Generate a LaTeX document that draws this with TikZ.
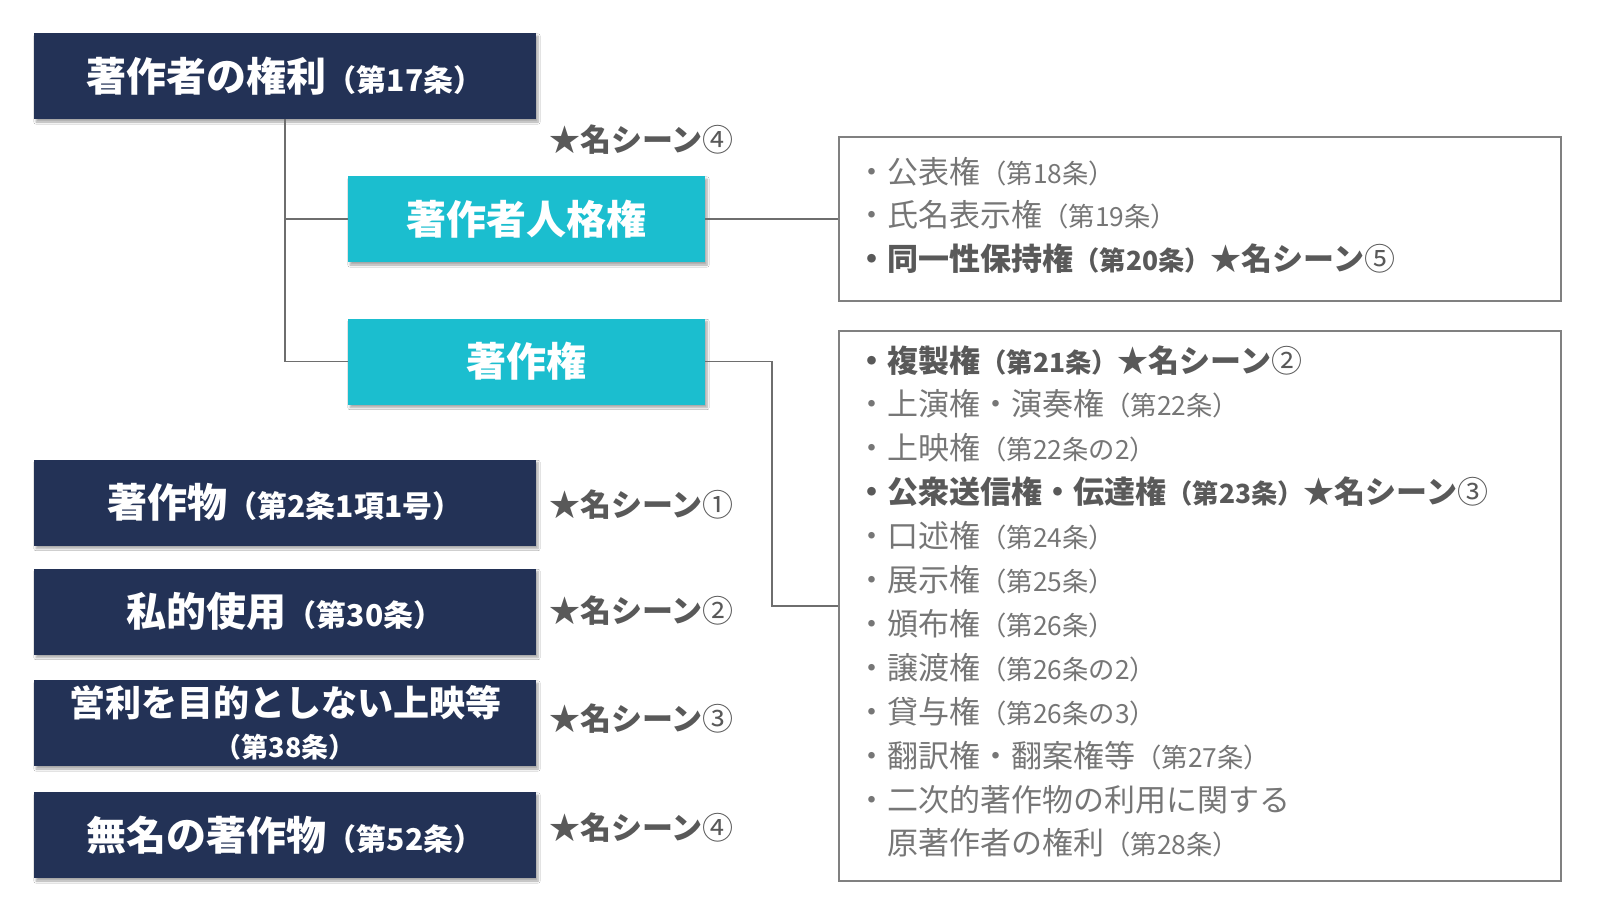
\documentclass[tikz,border=0pt]{standalone}
\usepackage{fontspec}
\setmainfont{Noto Sans CJK JP}
\usepackage{graphicx}
\usetikzlibrary{positioning,calc,shadows.blur}

\definecolor{navyfill}{RGB}{35,50,86}
\definecolor{cyanfill}{RGB}{27,190,207}
\definecolor{scenegray}{RGB}{89,89,89}
\definecolor{itemgray}{RGB}{118,118,118}
\definecolor{linegray}{RGB}{110,110,110}
\definecolor{framegray}{RGB}{128,128,128}

% article numbers are set smaller than the running text
\newcommand\artno[1]{\scalebox{0.75}{#1}}
\newcommand\artsm[1]{\scalebox{0.85}{#1}}
% circled scene numbers stay light
\newcommand\scn[1]{{\mdseries #1}}

\begin{document}
\begin{tikzpicture}[
  x=1pt,y=-1pt,
  navybox/.style={rectangle,fill=navyfill,text=white,inner sep=0pt,align=center,
                  minimum width=502pt,minimum height=86pt,
                  font=\bfseries\fontsize{40}{46}\selectfont,
                  blur shadow={shadow xshift=2pt,shadow yshift=-3pt,shadow blur steps=6,shadow opacity=35}},
  cyanbox/.style={navybox,fill=cyanfill,minimum width=357pt},
  scene/.style={anchor=west,inner sep=0pt,text=scenegray,font=\bfseries\fontsize{31}{36}\selectfont},
  listbox/.style={rectangle,draw=framegray,line width=1.5pt,minimum width=722pt,inner sep=0pt},
  itm/.style={anchor=west,inner sep=0pt,text=itemgray,font=\fontsize{31}{36}\selectfont},
  itmb/.style={itm,text=scenegray,font=\bfseries\fontsize{31}{36}\selectfont},
  conn/.style={draw=linegray,line width=1.6pt},
]
\fill[white] (0,0) rectangle (1600,907);
\useasboundingbox (0,0) rectangle (1600,907);

% ---------- rights tree ----------
\node[navybox] (right17) at (285,76) {著作者の権利\artno{（第17条）}};
\node[cyanbox] (moral) at (526.5,219) {著作者人格権};
\node[cyanbox] (copyr) at (526.5,361.5) {著作権};

\node[listbox,minimum height=164pt] (listA) at (1200,219) {};
\node[listbox,minimum height=550pt] (listB) at (1200,606) {};

\draw[conn] (right17.south) |- (moral.west);
\draw[conn] (right17.south) |- (copyr.west);
\draw[conn] (moral.east) -- (listA.west);
\draw[conn] (copyr.east) -- ++(67,0) |- (listB.west);

% ---------- list of moral rights ----------
\foreach \k/\st/\txt in {
  0/itm/{・公表権\artsm{（第18条）}},
  1/itm/{・氏名表示権\artsm{（第19条）}},
  2/itmb/{・同一性保持権\artsm{（第20条）}★名シーン\scn{⑤}}} {
  \node[\st] (itemA\k) at ($(listA.north west)+(18,35+43.9*\k)$) {\txt};
}

% ---------- list of economic rights ----------
\foreach \k/\st/\txt in {
  0/itmb/{・複製権\artsm{（第21条）}★名シーン\scn{②}},
  1/itm/{・上演権・演奏権\artsm{（第22条）}},
  2/itm/{・上映権\artsm{（第22条の2）}},
  3/itmb/{・公衆送信権・伝達権\artsm{（第23条）}★名シーン\scn{③}},
  4/itm/{・口述権\artsm{（第24条）}},
  5/itm/{・展示権\artsm{（第25条）}},
  6/itm/{・頒布権\artsm{（第26条）}},
  7/itm/{・譲渡権\artsm{（第26条の2）}},
  8/itm/{・貸与権\artsm{（第26条の3）}},
  9/itm/{・翻訳権・翻案権等\artsm{（第27条）}},
  10/itm/{・二次的著作物の利用に関する},
  11/itm/{\phantom{・}原著作者の権利\artsm{（第28条）}}} {
  \node[\st] (itemB\k) at ($(listB.north west)+(18,30+43.9*\k)$) {\txt};
}

% ---------- other provisions ----------
\node[navybox] (work) at (285,502.5) {著作物\artno{（第2条1項1号）}};
\node[navybox] (private) at (285,611.5) {私的使用\artno{（第30条）}};
\node[navybox,font=\bfseries\fontsize{36}{41}\selectfont] (screening) at (285,723)
  {営利を目的としない上映等\\\artno{（第38条）}};
\node[navybox] (anon) at (285,835) {無名の著作物\artno{（第52条）}};

% ---------- famous scenes ----------
\foreach \n/\y/\mark in {1/140/④, 2/505/①, 3/611/②, 4/719/③, 5/828/④} {
  \node[scene] (scene\n) at (549,\y) {★名シーン\scn{\mark}};
}
\end{tikzpicture}
\end{document}
